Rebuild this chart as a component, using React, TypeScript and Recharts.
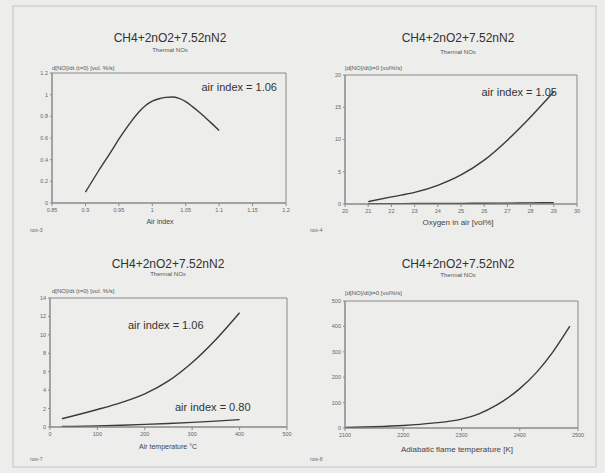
import React from "react";
import { LineChart, Line, XAxis, YAxis, ReferenceArea } from "recharts";

// ---- Data ----
const airIndexX = [0.9, 0.92, 0.94, 0.95, 0.96, 0.97, 0.98, 0.99, 1.0, 1.01, 1.02, 1.03, 1.04, 1.05, 1.06, 1.07, 1.08, 1.09, 1.1];
const airIndexY = [0.1, 0.3, 0.49, 0.59, 0.68, 0.765, 0.84, 0.9, 0.94, 0.962, 0.975, 0.978, 0.965, 0.935, 0.89, 0.84, 0.785, 0.728, 0.67];
const airIndexXTicks = [0.85, 0.9, 0.95, 1, 1.05, 1.1, 1.15, 1.2];
const airIndexYTicks = [0, 0.2, 0.4, 0.6, 0.8, 1, 1.2];

const oxygenX = [21, 22, 23, 24, 25, 26, 27, 28, 29];
const oxygenY = [0.36, 1.1, 1.8, 2.9, 4.5, 6.8, 9.9, 13.5, 17.4];
const oxygenLowY = [0.05, 0.06, 0.07, 0.08, 0.1, 0.12, 0.14, 0.17, 0.2];
const oxygenXTicks = [20, 21, 22, 23, 24, 25, 26, 27, 28, 29, 30];
const oxygenYTicks = [0, 5, 10, 15, 20];

const airTempX = [25, 50, 100, 150, 200, 250, 300, 350, 400];
const airTempHighY = [0.9, 1.22, 1.9, 2.65, 3.6, 5.0, 7.0, 9.5, 12.4];
const airTempLowY = [0.05, 0.07, 0.12, 0.19, 0.28, 0.38, 0.5, 0.64, 0.8];
const airTempXTicks = [0, 100, 200, 300, 400, 500];
const airTempYTicks = [0, 2, 4, 6, 8, 10, 12, 14];

const flameX = [2100, 2150, 2200, 2250, 2300, 2330, 2360, 2400, 2430, 2457, 2486];
const flameY = [2, 5, 10, 19, 35, 56, 90, 155, 222, 300, 401];
const flameXTicks = [2100, 2200, 2300, 2400, 2500];
const flameYTicks = [0, 100, 200, 300, 400, 500];

const TITLE = "CH4+2nO2+7.52nN2";
const SUBTITLE = "Thermal NOx";

const zip = (xs: number[], ys: number[]) => xs.map((x, i) => ({ x, y: ys[i] }));

const INK = "#3a3a3a";
const AXIS = "#8a8a8a";
const TICKTXT = "#666";
const FONT = "'Liberation Sans', Arial, sans-serif";
const YW = 24;
const XH = 16;

type Series = { data: { x: number; y: number }[] };
type PanelProps = {
  ox: number; oy: number; w: number; h: number;
  plot: [number, number, number, number];
  xDomain: [number, number]; yDomain: [number, number];
  xTicks: number[]; yTicks: number[];
  series: Series[];
};

function Panel(p: PanelProps) {
  const [L, T, R, B] = p.plot;
  const margin = { left: L - p.ox - YW, top: T - p.oy, right: p.ox + p.w - R, bottom: p.oy + p.h - B - XH };
  const tick = { fontSize: 5.5, fill: TICKTXT, fontFamily: FONT };
  return (
    <div style={{ position: "absolute", left: p.ox, top: p.oy }}>
      <LineChart width={p.w} height={p.h} margin={margin}>
        <XAxis
          dataKey="x"
          type="number"
          domain={p.xDomain}
          ticks={p.xTicks}
          allowDataOverflow
          height={XH}
          tick={tick}
          tickSize={3}
          tickMargin={2}
          stroke={AXIS}
          interval={0}
        />
        <YAxis
          type="number"
          domain={p.yDomain}
          ticks={p.yTicks}
          allowDataOverflow
          width={YW}
          tick={tick}
          tickSize={2}
          tickMargin={2}
          stroke={AXIS}
          interval={0}
        />
        <ReferenceArea
          x1={p.xDomain[0]} x2={p.xDomain[1]} y1={p.yDomain[0]} y2={p.yDomain[1]}
          fill="none" stroke={AXIS} strokeWidth={1} ifOverflow="visible"
        />
        {p.series.map((s, i) => (
          <Line
            key={i}
            data={s.data}
            dataKey="y"
            type="monotone"
            stroke={INK}
            strokeWidth={1.4}
            dot={false}
            isAnimationActive={false}
          />
        ))}
      </LineChart>
    </div>
  );
}

type T = { x: number; y: number; s: number; t: string; a?: "start" | "middle" | "end"; c?: string };

const texts: T[] = [
  // panel 1
  { x: 170, y: 42, s: 12, t: TITLE, a: "middle", c: "#333" },
  { x: 170, y: 52, s: 6, t: SUBTITLE, a: "middle", c: "#555" },
  { x: 52, y: 70, s: 6, t: "d[NO]/dt (t=0) [vol. %/s]", c: "#555" },
  { x: 277, y: 91, s: 11, t: "air index = 1.06", a: "end", c: "#333" },
  { x: 160, y: 224, s: 7, t: "Air index", a: "middle", c: "#444" },
  { x: 30, y: 232, s: 5, t: "nox-3", c: "#666" },
  // panel 2
  { x: 458, y: 42, s: 12, t: TITLE, a: "middle", c: "#333" },
  { x: 458, y: 54, s: 6, t: SUBTITLE, a: "middle", c: "#555" },
  { x: 345, y: 70, s: 6, t: "[d[NO]/dt]t=0 [vol%/s]", c: "#555" },
  { x: 557, y: 96, s: 11, t: "air index = 1.05", a: "end", c: "#333" },
  { x: 458, y: 225, s: 8, t: "Oxygen in air [vol%]", a: "middle", c: "#444" },
  { x: 310, y: 232, s: 5, t: "nox-4", c: "#666" },
  // panel 3
  { x: 168, y: 268, s: 12, t: TITLE, a: "middle", c: "#333" },
  { x: 168, y: 276, s: 6, t: SUBTITLE, a: "middle", c: "#555" },
  { x: 52, y: 293, s: 6, t: "d[NO]/dt (t=0) [vol. %/s]", c: "#555" },
  { x: 128, y: 329, s: 11, t: "air index = 1.06", c: "#333" },
  { x: 175, y: 411, s: 11, t: "air index = 0.80", c: "#333" },
  { x: 168, y: 449, s: 7, t: "Air temperature °C", a: "middle", c: "#444" },
  { x: 30, y: 461, s: 5, t: "nox-7", c: "#666" },
  // panel 4
  { x: 458, y: 268, s: 12, t: TITLE, a: "middle", c: "#333" },
  { x: 458, y: 277, s: 6, t: SUBTITLE, a: "middle", c: "#555" },
  { x: 345, y: 295, s: 6, t: "[d[NO]/dt]t=0 [vol%/s]", c: "#555" },
  { x: 457, y: 452, s: 8, t: "Adiabatic flame temperature [K]", a: "middle", c: "#444" },
  { x: 310, y: 461, s: 5, t: "nox-8", c: "#666" },
];

export default function App() {
  return (
    <div style={{ position: "absolute", left: 0, top: 0, width: 605, height: 473, background: "#ededeb", overflow: "hidden", fontFamily: FONT }}>
      <svg width={605} height={473} style={{ position: "absolute", left: 0, top: 0 }}>
        <rect x={13} y={6} width={583} height={461} fill="none" stroke="#c4c4c2" strokeWidth={1} />
      </svg>
      <Panel ox={0} oy={0} w={302} h={238} plot={[52, 73, 286, 203]}
        xDomain={[0.85, 1.2]} yDomain={[0, 1.2]} xTicks={airIndexXTicks} yTicks={airIndexYTicks}
        series={[{ data: zip(airIndexX, airIndexY) }]} />
      <Panel ox={302} oy={0} w={303} h={238} plot={[345, 75, 577, 204]}
        xDomain={[20, 30]} yDomain={[0, 20]} xTicks={oxygenXTicks} yTicks={oxygenYTicks}
        series={[{ data: zip(oxygenX, oxygenY) }, { data: zip(oxygenX, oxygenLowY) }]} />
      <Panel ox={0} oy={238} w={302} h={235} plot={[50, 298, 287, 427]}
        xDomain={[0, 500]} yDomain={[0, 14]} xTicks={airTempXTicks} yTicks={airTempYTicks}
        series={[{ data: zip(airTempX, airTempHighY) }, { data: zip(airTempX, airTempLowY) }]} />
      <Panel ox={302} oy={238} w={303} h={235} plot={[345, 301, 578, 428]}
        xDomain={[2100, 2500]} yDomain={[0, 500]} xTicks={flameXTicks} yTicks={flameYTicks}
        series={[{ data: zip(flameX, flameY) }]} />
      <svg width={605} height={473} style={{ position: "absolute", left: 0, top: 0, pointerEvents: "none" }}>
        {texts.map((t, i) => (
          <text key={i} x={t.x} y={t.y} fontSize={t.s} textAnchor={t.a || "start"} fill={t.c || INK} fontFamily={FONT}>
            {t.t}
          </text>
        ))}
      </svg>
    </div>
  );
}
